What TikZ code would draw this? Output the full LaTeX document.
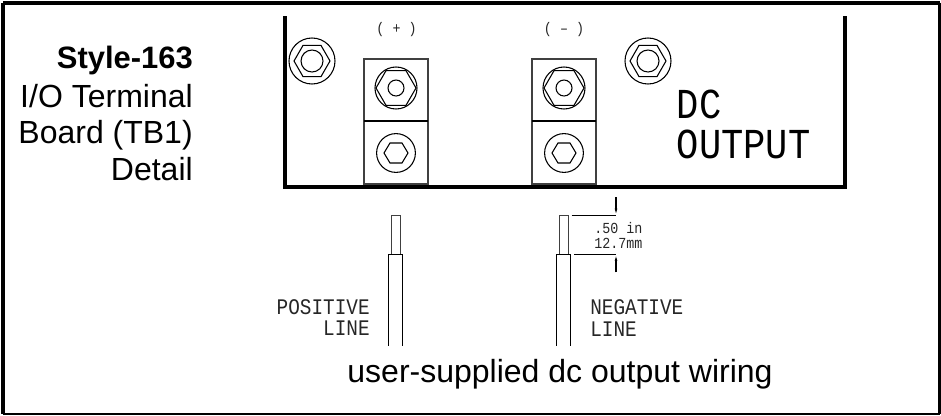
\documentclass[tikz,border=0pt]{standalone}
\usepackage{fontspec}
\setmainfont{Liberation Sans}
\newfontfamily\cadfont[FakeStretch=0.87]{Liberation Mono}
\usepackage{tikz}
\usetikzlibrary{calc,arrows.meta}

% common looks
\tikzset{
  frameline/.style={line width=2.9pt},
  thinline/.style={line width=0.8pt},
  blockline/.style={line width=1.1pt,draw=black!75},
  captext/.style={inner sep=0pt,font=\fontsize{24pt}{28pt}\selectfont},
  cadtext/.style={inner sep=0pt,text=black!85,font=\cadfont\fontsize{16.7pt}{20pt}\selectfont},
  smallcad/.style={inner sep=0pt,text=black!85,font=\cadfont\fontsize{11.5pt}{13pt}\selectfont},
  bigcad/.style={inner sep=0pt,font=\cadfont\fontsize{32pt}{36pt}\selectfont}
}

% hexagon with its flat sides up and down
\newcommand{\hexnut}[3]{
  \draw[thinline] ($(#1)+(-#2,0)$) -- ++(#2/2,-0.866*#2) -- ++(#2,0) -- ++(#2/2,0.866*#2)
    -- ++(-#2/2,0.866*#2) -- ++(-#2,0) -- cycle;
  \draw[thinline] (#1) circle (#3);
}

\begin{document}
\begin{tikzpicture}[x=0.75pt,y=-0.75pt]
\useasboundingbox (0,0) rectangle (941,415);

% Outer frame
\coordinate (FrameTL) at (3.2,2.7);
\coordinate (FrameTR) at (939.6,2.7);
\coordinate (FrameBR) at (939.6,413.9);
\coordinate (FrameBL) at (3.2,413.9);
\draw[line width=3.4pt] (FrameBL) -- (FrameTL);
\draw[line width=2.7pt] (FrameTL) -- (FrameTR);
\draw[line width=1.7pt] (FrameTR) -- (FrameBR);
\draw[line width=1.7pt] (FrameBR) -- (FrameBL);

% Panel outline
\coordinate (PanelTL) at (285,16);
\coordinate (PanelBL) at (285,187);
\coordinate (PanelBR) at (845,187);
\coordinate (PanelTR) at (845,16);
\draw[frameline] (PanelTL) -- (PanelBL) -- (PanelBR) -- (PanelTR);

% Terminal blocks
\foreach \blockx/\name in {364/P, 532/N} {
    \draw[blockline] (\blockx,59) rectangle ++(64,125);
    \draw[thinline] (\blockx,121) -- ++(64,0);
    \coordinate (Top\name) at (\blockx+32,88);
    \coordinate (Low\name) at (\blockx+32,153);
    \draw[thinline] (Top\name) circle (21);
    \hexnut{Top\name}{20}{8}
    \draw[thinline] (Low\name) circle (19.4);
    \draw[thinline] ($(Low\name)+(-12,0)$) -- ++(6,-10) -- ++(12,0) -- ++(6,10) -- ++(-6,10) -- ++(-12,0) -- cycle;
}

% Mounting screws
\foreach \name/\screwx in {ScrewL/312, ScrewR/648} {
    \coordinate (\name) at (\screwx,61);
    \draw[thinline] (\name) circle (23);
    \hexnut{\name}{18}{11}
}

% Polarity marks and panel text
\node[smallcad] (plus) at (396.5,30) {( + )};
\node[smallcad] (minus) at (564,30) {( – )};
\node[bigcad,anchor=base west] (dc) at (676.5,118) {DC};
\node[bigcad,anchor=base west] (output) at (676.5,158) {OUTPUT};

% Caption at the left
\node[captext,anchor=base east,font=\bfseries\fontsize{23.2pt}{28pt}\selectfont] (style) at (193,68) {Style-163};
\node[captext,anchor=base east] (term) at (193,107) {I/O Terminal};
\node[captext,anchor=base east] (board) at (193,143.5) {Board (TB1)};
\node[captext,anchor=base east] (detail) at (193,180) {Detail};

% Wires
\foreach \wirex in {395.8, 563.8} {
    \draw[blockline] (\wirex-4.5,254) -- (\wirex-4.5,215.3) -- (\wirex+4.5,215.3) -- (\wirex+4.5,254);
    \draw[thinline] (\wirex-7,345.6) -- (\wirex-7,254.3) -- (\wirex+7,254.3) -- (\wirex+7,345.6);
}

% Strip length dimension
\coordinate (DimTop) at (616,215.3);
\coordinate (DimLow) at (616,254.3);
\draw[thinline] (571.7,215.3) -- (DimTop);
\draw[thinline] (574,254.3) -- (DimLow);
\draw[thinline,-{Latex[length=5pt,width=2pt]}] (616,197) -- (DimTop);
\draw[thinline,-{Latex[length=5pt,width=2pt]}] (616,272.3) -- (DimLow);
\node[smallcad,anchor=base west] (inch) at (594,233) {.50 in};
\node[smallcad,anchor=base west] (metric) at (594,248) {12.7mm};

% Wire labels
\node[cadtext,anchor=base east] (pos) at (370,314) {POSITIVE};
\node[cadtext,anchor=base east] (posl) at (370,335) {LINE};
\node[cadtext,anchor=base west] (neg) at (590,314) {NEGATIVE};
\node[cadtext,anchor=base west] (negl) at (590,336) {LINE};

\node[captext,anchor=base] (wiring) at (560,382) {user-supplied dc output wiring};

\end{tikzpicture}
\end{document}
